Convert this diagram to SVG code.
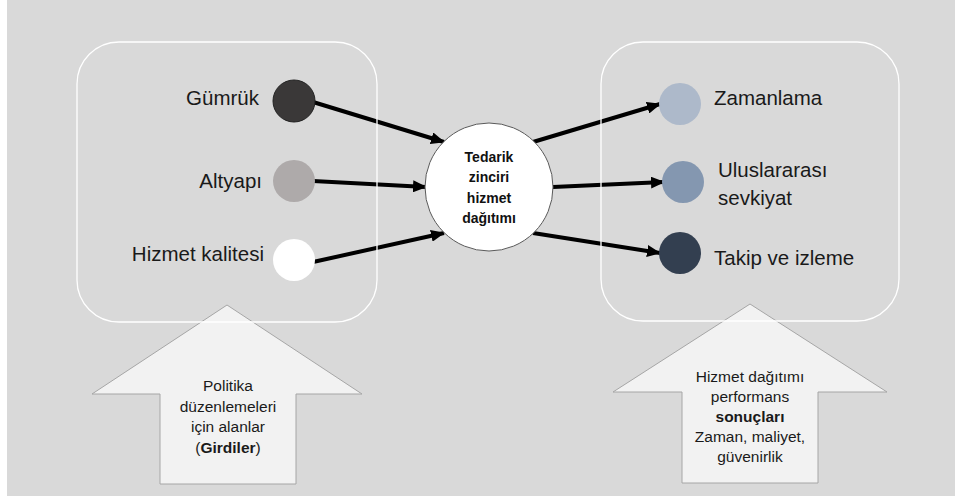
<svg xmlns="http://www.w3.org/2000/svg" width="955" height="499" viewBox="0 0 955 499">
  <style>
    .lbl { font-family: "Liberation Sans", Arial, sans-serif; font-size: 20.5px; fill: #1a1a1a; }
    .ctr { font-family: "Liberation Sans", Arial, sans-serif; font-size: 14px; font-weight: bold; fill: #111; text-anchor: middle; }
    .blk { font-family: "Liberation Sans", Arial, sans-serif; font-size: 15.5px; fill: #1a1a1a; text-anchor: middle; }
    .group-box { fill: none; stroke: #ffffff; stroke-width: 1.3; }
    .block-arrow { fill: #f2f2f2; stroke: #a6a6a6; stroke-width: 1; }
    .conn { stroke: #000; stroke-width: 4; fill: none; marker-end: url(#head); }
  </style>
  <defs>
    <marker id="head" markerUnits="userSpaceOnUse" markerWidth="14" markerHeight="12" refX="13" refY="6" orient="auto">
      <path d="M0,0 L14,6 L0,12 z" fill="#000"/>
    </marker>
  </defs>

  <!-- background panel -->
  <rect x="7" y="0" width="948" height="496" fill="#d9d9d9"/>

  <!-- block arrows at the bottom -->
  <g id="inputs-arrow">
    <path class="block-arrow" d="M227,305 L362,394 L296,394 L296,484 L160,484 L160,394 L92,394 Z"/>
    <text class="blk" x="228" y="391">Politika</text>
    <text class="blk" x="228" y="412">düzenlemeleri</text>
    <text class="blk" x="228" y="432">için alanlar</text>
    <text class="blk" x="228" y="453">(<tspan font-weight="bold">Girdiler</tspan>)</text>
  </g>
  <g id="outcomes-arrow">
    <path class="block-arrow" d="M750,304 L887,392 L818,392 L818,483 L682,483 L682,392 L613,392 Z"/>
    <text class="blk" x="750" y="382">Hizmet dağıtımı</text>
    <text class="blk" x="750" y="402">performans</text>
    <text class="blk" x="750" y="422" font-weight="bold">sonuçları</text>
    <text class="blk" x="750" y="442">Zaman, maliyet,</text>
    <text class="blk" x="750" y="462">güvenirlik</text>
  </g>

  <!-- connectors -->
  <g id="connectors">
    <line class="conn" x1="313" y1="102" x2="444" y2="142"/>
    <line class="conn" x1="313" y1="181" x2="426" y2="187"/>
    <line class="conn" x1="313" y1="262" x2="444" y2="233"/>
    <line class="conn" x1="533" y1="142" x2="660" y2="104"/>
    <line class="conn" x1="553" y1="187" x2="664" y2="182"/>
    <line class="conn" x1="533" y1="233" x2="660" y2="253"/>
  </g>

  <!-- input factors -->
  <g id="gumruk">
    <circle cx="294" cy="101" r="21" fill="#3a3838" stroke="#222" stroke-width="1"/>
    <text class="lbl" x="259" y="105" text-anchor="end">Gümrük</text>
  </g>
  <g id="altyapi">
    <circle cx="294" cy="181" r="21" fill="#aeaaaa"/>
    <text class="lbl" x="262" y="188" text-anchor="end">Altyapı</text>
  </g>
  <g id="hizmet-kalitesi">
    <circle cx="294" cy="260" r="21" fill="#ffffff"/>
    <text class="lbl" x="264" y="261" text-anchor="end">Hizmet kalitesi</text>
  </g>

  <!-- central process -->
  <g id="tedarik">
    <circle cx="489" cy="187" r="64" fill="#ffffff" stroke="#595959" stroke-width="1"/>
    <text class="ctr" x="489" y="162">Tedarik</text>
    <text class="ctr" x="489" y="182">zinciri</text>
    <text class="ctr" x="489" y="203">hizmet</text>
    <text class="ctr" x="489" y="223">dağıtımı</text>
  </g>

  <!-- outcomes -->
  <g id="zamanlama">
    <circle cx="680" cy="104" r="21" fill="#adb9ca"/>
    <text class="lbl" x="714" y="105">Zamanlama</text>
  </g>
  <g id="uluslararasi">
    <circle cx="683" cy="182" r="21" fill="#8497b0"/>
    <text class="lbl" x="718" y="177">Uluslararası</text>
    <text class="lbl" x="718" y="205">sevkiyat</text>
  </g>
  <g id="takip">
    <circle cx="680" cy="253" r="21" fill="#333f50"/>
    <text class="lbl" x="714" y="265">Takip ve izleme</text>
  </g>

  <!-- grouping frames -->
  <g id="input-frame">
    <rect class="group-box" x="77" y="42" width="300" height="280" rx="42" ry="42"/>
  </g>
  <g id="output-frame">
    <rect class="group-box" x="601" y="42" width="298" height="279" rx="42" ry="42"/>
  </g>
</svg>
